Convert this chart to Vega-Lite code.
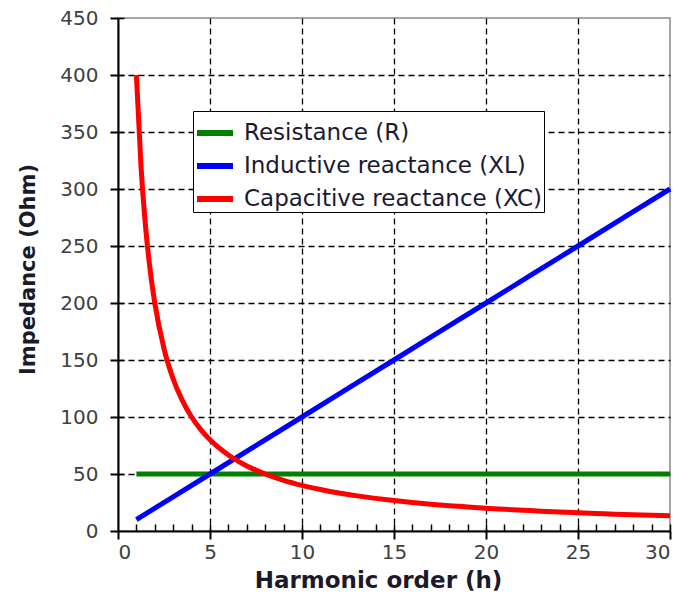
{
  "$schema": "https://vega.github.io/schema/vega-lite/v6.json",
  "width": 552,
  "height": 513,
  "autosize": {"type": "none"},
  "padding": {"left": 118, "top": 18, "right": 15, "bottom": 75},
  "background": "white",
  "config": {
    "font": "DejaVu Sans",
    "view": {"stroke": "#a6a6a6", "strokeWidth": 2}
  },
  "data": {
    "values": [
      {"h": 1, "value": 50, "series": "Resistance (R)"},
      {"h": 5, "value": 50, "series": "Resistance (R)"},
      {"h": 10, "value": 50, "series": "Resistance (R)"},
      {"h": 15, "value": 50, "series": "Resistance (R)"},
      {"h": 20, "value": 50, "series": "Resistance (R)"},
      {"h": 25, "value": 50, "series": "Resistance (R)"},
      {"h": 30, "value": 50, "series": "Resistance (R)"},
      {"h": 1, "value": 10, "series": "Inductive reactance (XL)"},
      {"h": 5, "value": 50, "series": "Inductive reactance (XL)"},
      {"h": 10, "value": 100, "series": "Inductive reactance (XL)"},
      {"h": 15, "value": 150, "series": "Inductive reactance (XL)"},
      {"h": 20, "value": 200, "series": "Inductive reactance (XL)"},
      {"h": 25, "value": 250, "series": "Inductive reactance (XL)"},
      {"h": 30, "value": 300, "series": "Inductive reactance (XL)"},
      {"h": 1, "value": 400, "series": "Capacitive reactance (XC)"},
      {"h": 1.25, "value": 320, "series": "Capacitive reactance (XC)"},
      {"h": 1.5, "value": 266.7, "series": "Capacitive reactance (XC)"},
      {"h": 1.75, "value": 228.6, "series": "Capacitive reactance (XC)"},
      {"h": 2, "value": 200, "series": "Capacitive reactance (XC)"},
      {"h": 2.5, "value": 160, "series": "Capacitive reactance (XC)"},
      {"h": 3, "value": 133.3, "series": "Capacitive reactance (XC)"},
      {"h": 3.5, "value": 114.3, "series": "Capacitive reactance (XC)"},
      {"h": 4, "value": 100, "series": "Capacitive reactance (XC)"},
      {"h": 4.5, "value": 88.9, "series": "Capacitive reactance (XC)"},
      {"h": 5, "value": 80, "series": "Capacitive reactance (XC)"},
      {"h": 6, "value": 66.7, "series": "Capacitive reactance (XC)"},
      {"h": 7, "value": 57.1, "series": "Capacitive reactance (XC)"},
      {"h": 8, "value": 50, "series": "Capacitive reactance (XC)"},
      {"h": 9, "value": 44.4, "series": "Capacitive reactance (XC)"},
      {"h": 10, "value": 40, "series": "Capacitive reactance (XC)"},
      {"h": 11, "value": 36.4, "series": "Capacitive reactance (XC)"},
      {"h": 12, "value": 33.3, "series": "Capacitive reactance (XC)"},
      {"h": 13, "value": 30.8, "series": "Capacitive reactance (XC)"},
      {"h": 14, "value": 28.6, "series": "Capacitive reactance (XC)"},
      {"h": 15, "value": 26.7, "series": "Capacitive reactance (XC)"},
      {"h": 16, "value": 25, "series": "Capacitive reactance (XC)"},
      {"h": 17, "value": 23.5, "series": "Capacitive reactance (XC)"},
      {"h": 18, "value": 22.2, "series": "Capacitive reactance (XC)"},
      {"h": 19, "value": 21.1, "series": "Capacitive reactance (XC)"},
      {"h": 20, "value": 20, "series": "Capacitive reactance (XC)"},
      {"h": 21, "value": 19, "series": "Capacitive reactance (XC)"},
      {"h": 22, "value": 18.2, "series": "Capacitive reactance (XC)"},
      {"h": 23, "value": 17.4, "series": "Capacitive reactance (XC)"},
      {"h": 24, "value": 16.7, "series": "Capacitive reactance (XC)"},
      {"h": 25, "value": 16, "series": "Capacitive reactance (XC)"},
      {"h": 26, "value": 15.4, "series": "Capacitive reactance (XC)"},
      {"h": 27, "value": 14.8, "series": "Capacitive reactance (XC)"},
      {"h": 28, "value": 14.3, "series": "Capacitive reactance (XC)"},
      {"h": 29, "value": 13.8, "series": "Capacitive reactance (XC)"},
      {"h": 30, "value": 13.3, "series": "Capacitive reactance (XC)"}
    ]
  },
  "layer": [
    {
      "mark": {"type": "line", "strokeOpacity": 0},
      "encoding": {
        "x": {
          "field": "h", "type": "quantitative",
          "scale": {"domain": [0, 30], "nice": false, "zero": false},
          "axis": {"orient": "bottom", "grid": true, "values": [5, 10, 15, 20, 25], "gridColor": "black", "gridDash": [6, 4], "gridWidth": 1.3, "gridOpacity": 1, "domain": false, "ticks": false, "labels": false, "title": null}
        },
        "y": {
          "field": "value", "type": "quantitative",
          "scale": {"domain": [0, 450], "nice": false},
          "axis": {"orient": "left", "grid": true, "values": [50, 100, 150, 200, 250, 300, 350, 400], "gridColor": "black", "gridDash": [6, 4], "gridWidth": 1.3, "gridOpacity": 1, "domain": false, "ticks": false, "labels": false, "title": null}
        },
        "detail": {"field": "series"}
      }
    },
    {
      "mark": {"type": "line", "strokeOpacity": 0},
      "encoding": {
        "x": {
          "field": "h", "type": "quantitative",
          "axis": {"orient": "bottom", "offset": -7, "grid": false, "values": [1, 2, 3, 4, 5, 6, 7, 8, 9, 10, 11, 12, 13, 14, 15, 16, 17, 18, 19, 20, 21, 22, 23, 24, 25, 26, 27, 28, 29, 30], "domain": false, "ticks": true, "tickSize": 7, "tickColor": "black", "tickWidth": 1.5, "labels": false, "title": null}
        },
        "y": {
          "field": "value", "type": "quantitative",
          "axis": {"orient": "left", "offset": -6, "grid": false, "values": [50, 100, 150, 200, 250, 300, 350, 400, 450], "domain": false, "ticks": true, "tickSize": 6, "tickColor": "black", "tickWidth": 1.5, "labels": false, "title": null}
        },
        "detail": {"field": "series"}
      }
    },
    {
      "mark": {"type": "line", "strokeWidth": 5, "interpolate": "monotone"},
      "encoding": {
        "x": {
          "field": "h", "type": "quantitative",
          "axis": {
            "orient": "bottom", "grid": false, "values": [0, 5, 10, 15, 20, 25, 30],
            "domain": true, "domainColor": "black", "domainWidth": 2,
            "ticks": true, "tickSize": 8, "tickColor": "black", "tickWidth": 2,
            "labelFont": "DejaVu Sans", "labelFontSize": 20, "labelColor": "#404040", "labelPadding": 3,
            "title": "Harmonic order (h)", "titleFont": "DejaVu Sans", "titleFontSize": 23, "titleFontWeight": "bold", "titleColor": "#1a1a2a", "titlePadding": 7,
            "titleX": 260, "titleAlign": "center"
          }
        },
        "y": {
          "field": "value", "type": "quantitative",
          "axis": {
            "orient": "left", "grid": false, "values": [0, 50, 100, 150, 200, 250, 300, 350, 400, 450],
            "domain": true, "domainColor": "black", "domainWidth": 2,
            "ticks": true, "tickSize": 8, "tickColor": "black", "tickWidth": 2,
            "labelFont": "DejaVu Sans", "labelFontSize": 20, "labelColor": "#404040", "labelPadding": 12,
            "title": "Impedance (Ohm)", "titleFont": "DejaVu Sans", "titleFontSize": 21, "titleFontWeight": "bold", "titleColor": "#1a1a2a",
            "titleX": -90, "titleY": 251, "titleBaseline": "middle", "titleAlign": "center", "titleAngle": -90
          }
        },
        "color": {
          "field": "series", "type": "nominal",
          "scale": {
            "domain": ["Resistance (R)", "Inductive reactance (XL)", "Capacitive reactance (XC)"],
            "range": ["#008000", "#0000ff", "#ff0000"]
          },
          "legend": {
            "orient": "none", "legendX": 75, "legendY": 93, "title": null,
            "direction": "vertical",
            "strokeColor": "black", "fillColor": "white", "padding": 1,
            "symbolType": "stroke", "symbolSize": 1296, "symbolStrokeWidth": 6,
            "labelFont": "DejaVu Sans", "labelFontSize": 23, "labelColor": "#1a1a33", "labelOffset": 8,
            "rowPadding": -18, "labelLimit": 400
          }
        }
      }
    }
  ],
  "resolve": {"axis": {"x": "independent", "y": "independent"}}
}
